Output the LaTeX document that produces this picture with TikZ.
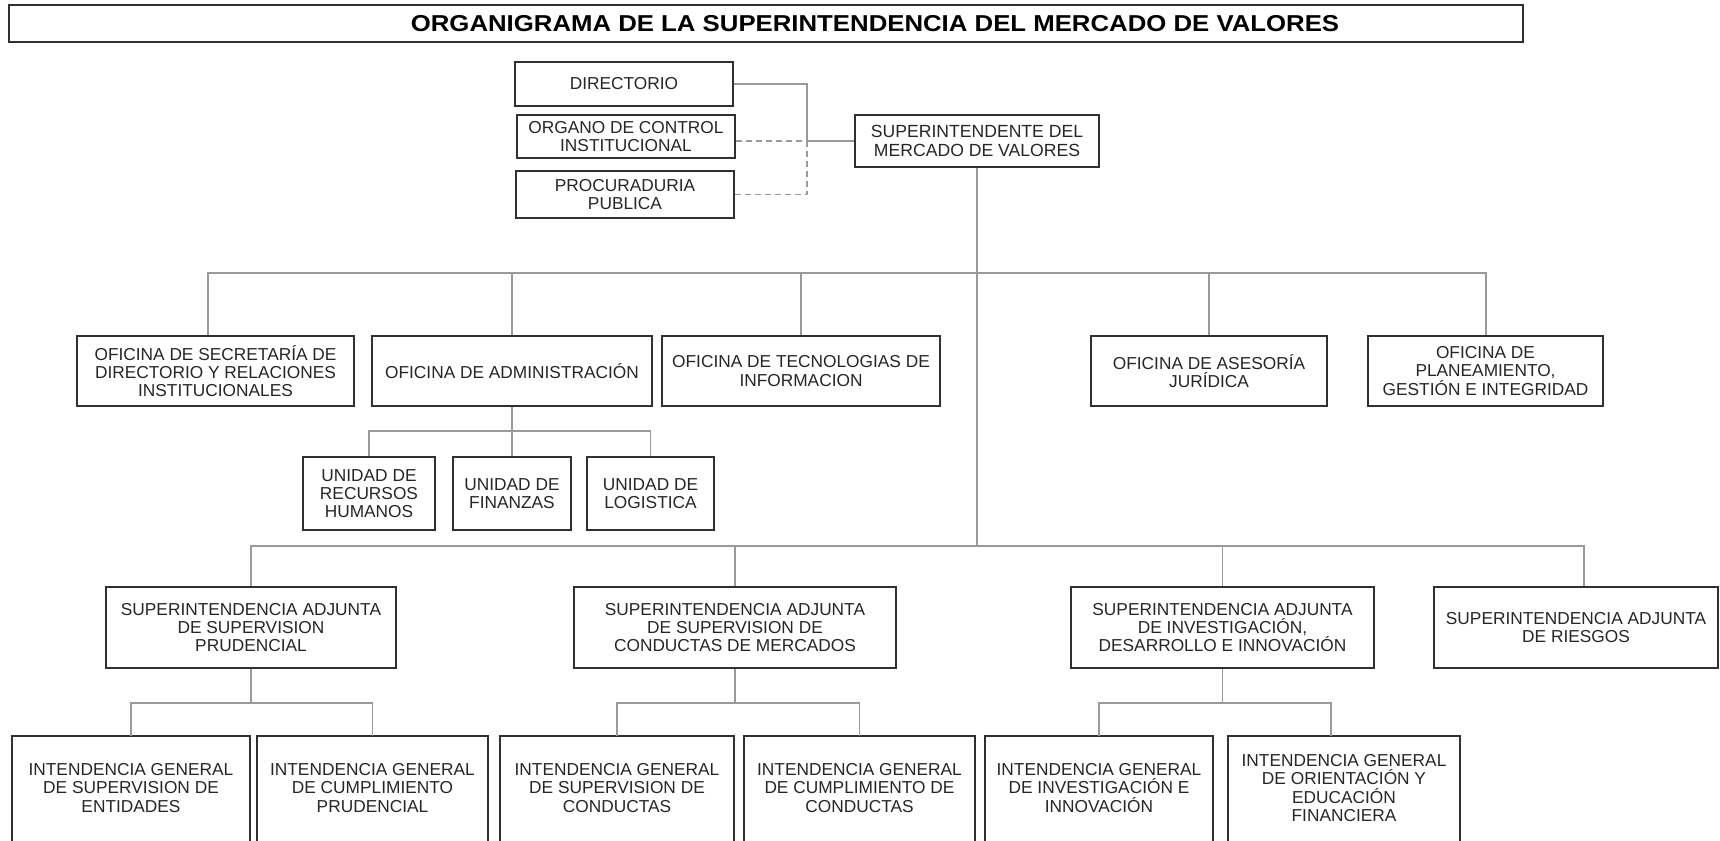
\documentclass[tikz,border=0pt]{standalone}
\usepackage{fontspec}
\setmainfont{Liberation Sans}
\usepackage{graphicx}
\definecolor{boxc}{HTML}{303030}
\definecolor{linec}{HTML}{9A9A9A}
\newcommand{\fsn}{\fontsize{17.3}{18.2}\selectfont}
\newcommand{\fss}{\fontsize{17.6}{19}\selectfont}
\begin{document}
\begin{tikzpicture}[x=1pt,y=-1pt,
  box/.style={draw=boxc, line width=1.6pt, fill=white, inner sep=0pt, align=center, font=\fsn, text=black!85},
  boxt/.style={inner sep=0pt, align=center, font=\fsn, text=black!85},
  boxline/.style={draw=boxc, line width=1.6pt},
  conn/.style={draw=linec, line width=1.3pt},
  dconn/.style={conn, dash pattern=on 6pt off 4pt}]
\useasboundingbox (0,0) rectangle (1720,840);
\clip (0,0) rectangle (1720,840);
\fill[white] (0,0) rectangle (1720,840);

% title
\draw[boxline, line width=1.8pt] (9,5) rectangle (1523,42);
\node[inner sep=0pt, text=black] (title) at (875,24) {\scalebox{1.12}[1]{\fontsize{23}{23}\selectfont\bfseries ORGANIGRAMA DE LA SUPERINTENDENCIA DEL MERCADO DE VALORES}};

% top
\node[box, minimum width=218, minimum height=44] (dir) at (624,84) {DIRECTORIO};
\node[box, minimum width=218, minimum height=43] (org) at (626,136.5) {ORGANO DE CONTROL\\INSTITUCIONAL};
\node[box, minimum width=218, minimum height=47] (pro) at (625,194.5) {PROCURADURIA\\PUBLICA};
\node[box, minimum width=244, minimum height=52, font=\fss] (sup) at (977,141) {SUPERINTENDENTE DEL\\MERCADO DE VALORES};

% row 2
\node[box, minimum width=277, minimum height=70] (sec) at (215.5,371) {OFICINA DE SECRETARÍA DE\\DIRECTORIO Y RELACIONES\\INSTITUCIONALES};
\node[box, minimum width=280, minimum height=70] (adm) at (512,371) {OFICINA DE ADMINISTRACIÓN};
\node[box, minimum width=278, minimum height=70] (tec) at (801,371) {OFICINA DE TECNOLOGIAS DE\\INFORMACION};
\node[box, minimum width=236, minimum height=70] (ase) at (1209,371) {OFICINA DE ASESORÍA\\JURÍDICA};
\node[box, minimum width=235, minimum height=70] (pla) at (1485.5,371) {OFICINA DE\\PLANEAMIENTO,\\GESTIÓN E INTEGRIDAD};

% units
\node[box, minimum width=132, minimum height=73] (rrhh) at (369,493.5) {UNIDAD DE\\RECURSOS\\HUMANOS};
\node[box, minimum width=118, minimum height=73] (fin) at (512,493.5) {UNIDAD DE\\FINANZAS};
\node[box, minimum width=127, minimum height=73] (log) at (650.5,493.5) {UNIDAD DE\\LOGISTICA};

% superintendencias adjuntas
\node[box, minimum width=290, minimum height=81] (pru) at (251,627.5) {SUPERINTENDENCIA ADJUNTA\\DE SUPERVISION\\PRUDENCIAL};
\node[box, minimum width=322, minimum height=81] (con) at (735,627.5) {SUPERINTENDENCIA ADJUNTA\\DE SUPERVISION DE\\CONDUCTAS DE MERCADOS};
\node[box, minimum width=303, minimum height=81] (inv) at (1222.5,627.5) {SUPERINTENDENCIA ADJUNTA\\DE INVESTIGACIÓN,\\DESARROLLO E INNOVACIÓN};
\node[box, minimum width=284, minimum height=81] (rie) at (1576,627.5) {SUPERINTENDENCIA ADJUNTA\\DE RIESGOS};

% intendencias generales
\node[boxt, minimum width=238, minimum height=104] (igse) at (131,788) {INTENDENCIA GENERAL\\DE SUPERVISION DE\\ENTIDADES};
\node[boxt, minimum width=231, minimum height=104] (igcp) at (372.5,788) {INTENDENCIA GENERAL\\DE CUMPLIMIENTO\\PRUDENCIAL};
\node[boxt, minimum width=234, minimum height=104] (igsc) at (617,788) {INTENDENCIA GENERAL\\DE SUPERVISION DE\\CONDUCTAS};
\node[boxt, minimum width=231, minimum height=104] (igcc) at (859.5,788) {INTENDENCIA GENERAL\\DE CUMPLIMIENTO DE\\CONDUCTAS};
\node[boxt, minimum width=228, minimum height=104] (igii) at (1099,788) {INTENDENCIA GENERAL\\DE INVESTIGACIÓN E\\INNOVACIÓN};
\node[boxt, minimum width=232, minimum height=104] (igoe) at (1344,788) {INTENDENCIA GENERAL\\DE ORIENTACIÓN Y\\EDUCACIÓN\\FINANCIERA};
\foreach \n in {igse,igcp,igsc,igcc,igii,igoe}{
  \draw[boxline] ([yshift=-20pt]\n.south west) -- (\n.north west) -- (\n.north east) -- ([yshift=-20pt]\n.south east);
}

% coordinates
\coordinate (junc) at (807,141);
\coordinate (bus1) at (977,273);
\coordinate (bus2) at (977,546);
\coordinate (sub1) at (512,431);
\coordinate (subp) at (251,703);
\coordinate (subc) at (735,703);
\coordinate (subi) at (1222.5,703);

% connectors
\draw[conn] (dir.east) -| (junc) -- (sup.west);
\draw[dconn] (org.east |- junc) -- (junc);
\draw[dconn] (pro.east) -| (junc);
\draw[conn] (sup.south) -- (bus2);
\draw[conn] ([xshift=-7.5pt]sec.north) |- (bus1) -| ([xshift=0.5pt]pla.north);
\draw[conn] (adm.north) -- (adm.north |- bus1);
\draw[conn] (tec.north) -- (tec.north |- bus1);
\draw[conn] (ase.north) -- (ase.north |- bus1);
\draw[conn] (adm.south) -- (fin.north);
\draw[conn] (rrhh.north) |- (sub1) -| (log.north);
\draw[conn] (pru.north) |- (bus2) -| ([xshift=8pt]rie.north);
\draw[conn] (con.north) -- (con.north |- bus2);
\draw[conn] (inv.north) -- (inv.north |- bus2);
\draw[conn] (pru.south) -- (subp);
\draw[conn] (igse.north) |- (subp) -| (igcp.north);
\draw[conn] (con.south) -- (subc);
\draw[conn] (igsc.north) |- (subc) -| (igcc.north);
\draw[conn] (inv.south) -- (subi);
\draw[conn] (igii.north) |- (subi) -| ([xshift=-13pt]igoe.north);
\end{tikzpicture}
\end{document}
